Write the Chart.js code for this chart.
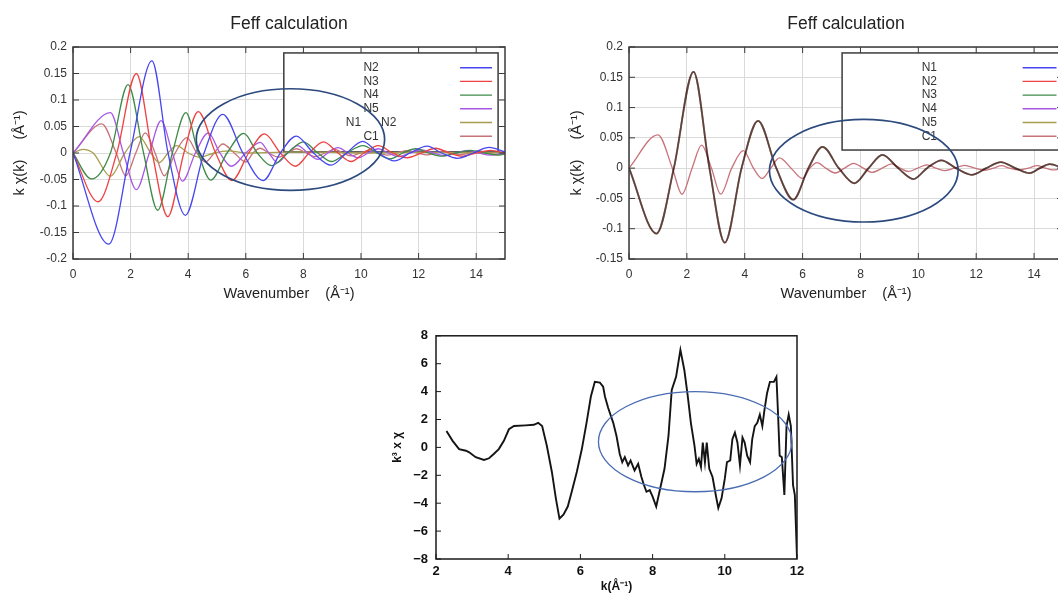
<!DOCTYPE html>
<html>
<head>
<meta charset="utf-8">
<script src="https://cdn.jsdelivr.net/npm/chart.js@4.4.1/dist/chart.umd.min.js"></script>
<style>
  html, body { margin: 0; padding: 0; background: #fff; }
  body { width: 1058px; height: 594px; overflow: hidden; position: relative; }
  canvas { position: absolute; }
  #feffA { left: 0; top: 0; }
  #feffB { left: 530px; top: 0; }
  #expt { left: 380px; top: 320px; }
</style>
</head>
<body>
<canvas id="feffA" width="530" height="310"></canvas>
<canvas id="feffB" width="560" height="310"></canvas>
<canvas id="expt" width="440" height="274"></canvas>
<script>
const FONT = "'Liberation Sans', Arial, sans-serif";

// tick values
const feffTicksX = [0, 2, 4, 6, 8, 10, 12, 14];
const feffTicksYA = [-0.2, -0.15, -0.1, -0.05, 0, 0.05, 0.1, 0.15, 0.2];
const feffTicksYB = [-0.15, -0.1, -0.05, 0, 0.05, 0.1, 0.15, 0.2];
const exptTicksX = [2, 4, 6, 8, 10, 12];
const exptTicksY = [-8, -6, -4, -2, 0, 2, 4, 6, 8];
const exptTickLabelsY = ["\u22128", "\u22126", "\u22124", "\u22122", "0", "2", "4", "6", "8"];

// legend entries
const legendA = ["N2", "N3", "N4", "N5", "N1      N2", "C1"];
const legendB = ["N1", "N2", "N3", "N4", "N5", "C1"];
const pathColors = ["#4646f0", "#ee4242", "#3d8a48", "#a757e4", "#a89d4e", "#c8727a"];
// opacity of the five stacked paths in the right panel
const stackAlpha = [0.25, 0.5, 0.5, 0.25, 0.6];

// left Feff panel: [k, k*chi(k)]
const a_N2 = [[0,0],[1.24,-0.172],[1.98,0],[2.74,0.174],[3.3,0],[3.9,-0.1175],[4.55,0],[5.2,0.073],[5.9,0],[6.6,-0.052],[7.2,0],[7.75,0.032],[8.35,0],[8.96,-0.023],[9.5,0],[10.06,0.022],[10.6,0],[11.16,-0.015],[11.7,0],[12.3,0.013],[12.8,0],[13.35,-0.01],[13.9,0],[14.45,0.0105],[15,0.002]];
const a_N3 = [[0,0],[0.87,-0.092],[1.52,0],[2.2,0.15],[2.75,0],[3.29,-0.12],[3.85,0],[4.35,0.078],[4.95,0],[5.52,-0.052],[6.1,0],[6.65,0.036],[7.2,0],[7.72,-0.025],[8.2,0],[8.7,0.021],[9.2,0],[9.66,-0.016],[10.1,0],[10.6,0.014],[11.1,0],[11.6,-0.009],[12.1,0],[12.6,0.009],[13.05,0],[13.5,-0.006],[14,0],[14.5,0.005],[15,0]];
const a_N4 = [[0,0],[0.64,-0.049],[1.3,0],[1.91,0.129],[2.45,0],[2.94,-0.108],[3.45,0],[3.92,0.076],[4.35,0],[4.78,-0.051],[5.35,0],[5.93,0.037],[6.4,0],[6.9,-0.024],[7.45,0],[8.0,0.021],[8.5,0],[8.97,-0.016],[9.5,0],[10.07,0.014],[10.55,0],[11.0,-0.011],[11.45,0],[11.9,0.008],[12.35,0],[12.8,-0.006],[13.3,0],[13.8,0.005],[14.3,0],[14.8,-0.004],[15,-0.002]];
const a_N5 = [[0,0],[1.3,0.076],[1.75,0],[2.2,-0.069],[2.65,0],[3.06,0.061],[3.45,0],[3.8,-0.053],[4.25,0],[4.7,0.038],[5.1,0],[5.5,-0.025],[6.0,0],[6.5,0.02],[6.8,0],[7.1,-0.018],[7.45,0],[7.8,0.014],[8.15,0],[8.5,-0.012],[8.85,0],[9.2,0.01],[9.55,0],[9.9,-0.009],[10.25,0],[10.6,0.008],[10.95,0],[11.3,-0.007],[11.7,0],[12.1,0.006],[12.5,0],[12.9,-0.005],[13.3,0],[13.7,0.005],[14.1,0],[14.5,-0.004],[15,0]];
const a_N1 = [[0,0],[0.35,0.007],[0.7,0],[1.3,-0.044],[1.8,0],[2.3,0.031],[2.7,0],[3.0,-0.018],[3.3,0],[3.6,0.014],[4.0,0],[4.4,-0.008],[4.9,0],[5.4,0.004],[6.0,0],[8.0,0.002],[10.0,0],[12.0,0.001],[15,0]];
const c1 = [[0,0],[1.0,0.055],[1.5,0],[1.83,-0.043],[2.18,0],[2.51,0.038],[2.85,0],[3.17,-0.043],[3.55,0],[3.95,0.029],[4.3,0],[4.6,-0.017],[4.9,0],[5.2,0.017],[5.6,0],[6.0,-0.017],[6.25,0],[6.5,0.009],[6.8,0],[7.13,-0.008],[7.45,0],[7.76,0.008],[8.1,0],[8.4,-0.007],[8.75,0],[9.08,0.007],[9.37,0],[9.66,-0.0055],[9.98,0],[10.3,0.0055],[10.6,0],[10.9,-0.004],[11.25,0],[11.6,0.0045],[11.95,0],[12.3,-0.0035],[12.6,0],[12.87,0.004],[13.15,0],[13.45,-0.003],[13.8,0],[14.1,0.004],[14.4,0],[14.7,-0.003],[15,0]];

// right Feff panel: N1..N5 sit on one curve
const b_N = [[0,0],[0.95,-0.108],[1.55,0],[2.23,0.159],[2.78,0],[3.31,-0.123],[3.89,0],[4.46,0.078],[5.09,0],[5.68,-0.052],[6.2,0],[6.69,0.035],[7.25,0],[7.79,-0.025],[8.28,0],[8.76,0.022],[9.3,0],[9.83,-0.018],[10.3,0],[10.8,0.0128],[11.3,0],[11.84,-0.011],[12.35,0],[12.85,0.01],[13.35,0],[13.85,-0.0083],[14.2,0],[14.54,0.0067],[15,0]];

// measured k^3 chi: [k, value]
const expt = [[2.29,1.18],[2.46,0.47],[2.64,-0.12],[2.83,-0.24],[2.92,-0.35],[3.1,-0.7],[3.33,-0.9],[3.47,-0.78],[3.6,-0.47],[3.74,-0.12],[3.88,0.47],[4.02,1.3],[4.16,1.53],[4.48,1.58],[4.71,1.62],[4.83,1.76],[4.94,1.53],[5.07,0.12],[5.21,-1.76],[5.32,-3.65],[5.42,-5.1],[5.53,-4.82],[5.65,-4.24],[5.76,-3.18],[5.9,-1.76],[6.04,-0.12],[6.17,1.76],[6.29,3.65],[6.4,4.7],[6.54,4.64],[6.63,4.35],[6.68,3.65],[6.77,2.82],[6.91,1.76],[7.0,0.82],[7.09,-0.47],[7.16,-1.06],[7.23,-0.7],[7.32,-1.29],[7.39,-0.94],[7.5,-1.65],[7.6,-1.18],[7.69,-2.12],[7.76,-2.7],[7.83,-3.18],[7.92,-3.06],[8.0,-3.53],[8.1,-4.24],[8.19,-3.18],[8.33,-1.53],[8.44,0.82],[8.53,4.12],[8.65,5.06],[8.77,6.99],[8.88,5.53],[8.97,3.76],[9.06,1.76],[9.16,0.12],[9.22,-1.18],[9.28,-0.82],[9.34,-1.41],[9.39,0.35],[9.45,-1.06],[9.5,0.35],[9.57,-1.53],[9.66,-2.12],[9.75,-3.41],[9.82,-4.35],[9.91,-3.65],[10.0,-2.24],[10.06,-1.06],[10.15,-0.94],[10.21,0.59],[10.28,1.06],[10.35,0.35],[10.42,-1.29],[10.49,0.71],[10.55,0.35],[10.62,-0.59],[10.7,-1.06],[10.76,0.59],[10.83,1.53],[10.9,1.76],[10.97,2.35],[11.04,1.53],[11.1,2.7],[11.17,3.88],[11.25,4.7],[11.36,4.7],[11.43,5.06],[11.47,2.7],[11.52,-0.59],[11.58,-0.7],[11.65,-3.41],[11.71,1.53],[11.77,2.35],[11.83,1.53],[11.89,-2.7],[11.94,-3.41],[12.0,-7.9]];

// hand-drawn rings: centre x, centre y, half width, half height (data units)
const ringA = [7.55, 0.0254, 3.27, 0.0958];
const ringB = [8.115, -0.0042, 3.26, 0.0847];
const ringC = [9.18, 0.41, 2.68, 3.59];

const toXY = (pts) => pts.map(([x, y]) => ({ x, y }));

function withAlpha(hex, a) {
    const n = parseInt(hex.slice(1), 16);
    return `rgba(${(n >> 16) & 255}, ${(n >> 8) & 255}, ${n & 255}, ${a})`;
}

// legend drawn as a framed box inside the plot (gnuplot style)
const boxLegend = {
    id: "boxLegend",
    beforeDatasetsDraw(chart, args, opts) {
        if (!opts.labels) return;
        const { ctx, chartArea: a } = chart;
        const w = a.right - a.left;
        const h = a.bottom - a.top;
        const x0 = a.left + opts.box[0] * w;
        const y0 = a.top + opts.box[1] * h;
        const x1 = a.left + opts.box[2] * w;
        const y1 = a.top + opts.box[3] * h;
        ctx.save();
        ctx.fillStyle = "#fff";
        ctx.fillRect(x0, y0, x1 - x0, y1 - y0);
        ctx.strokeStyle = "#3c3c3c";
        ctx.lineWidth = 1.5;
        ctx.strokeRect(x0, y0, x1 - x0, y1 - y0);
        ctx.font = "12px " + FONT;
        ctx.textAlign = "center";
        ctx.textBaseline = "middle";
        opts.labels.forEach((label, i) => {
            const y = a.top + opts.rowY + i * opts.rowStep;
            ctx.fillStyle = "#333";
            ctx.fillText(label, a.left + opts.textX * w, y);
            ctx.strokeStyle = opts.colors[i];
            ctx.lineWidth = 1.4;
            ctx.beginPath();
            ctx.moveTo(a.left + opts.lineX[0] * w, y);
            ctx.lineTo(a.left + opts.lineX[1] * w, y);
            ctx.stroke();
        });
        ctx.restore();
    },
};

// full frame with inward tick marks
const frame = {
    id: "frame",
    afterDatasetsDraw(chart, args, opts) {
        const { ctx, chartArea: a, scales } = chart;
        const L = opts.tick;
        ctx.save();
        ctx.strokeStyle = opts.color;
        ctx.lineWidth = opts.width;
        ctx.strokeRect(a.left, a.top, a.right - a.left, a.bottom - a.top);
        ctx.lineWidth = 1;
        ctx.beginPath();
        scales.x.ticks.forEach((t) => {
            const px = scales.x.getPixelForValue(t.value);
            ctx.moveTo(px, a.bottom);
            ctx.lineTo(px, a.bottom - L);
            if (opts.allSides) {
                ctx.moveTo(px, a.top);
                ctx.lineTo(px, a.top + L);
            }
        });
        scales.y.ticks.forEach((t) => {
            const py = scales.y.getPixelForValue(t.value);
            ctx.moveTo(a.left, py);
            ctx.lineTo(a.left + L, py);
            if (opts.allSides) {
                ctx.moveTo(a.right, py);
                ctx.lineTo(a.right - L, py);
            }
        });
        ctx.stroke();
        ctx.restore();
    },
};

const ring = {
    id: "ring",
    afterDatasetsDraw(chart, args, opts) {
        if (!opts.ellipse) return;
        const { ctx, scales: { x, y } } = chart;
        const [cx, cy, rx, ry] = opts.ellipse;
        const px = x.getPixelForValue(cx);
        const py = y.getPixelForValue(cy);
        const rpx = Math.abs(x.getPixelForValue(cx + rx) - px);
        const rpy = Math.abs(y.getPixelForValue(cy + ry) - py);
        ctx.save();
        ctx.strokeStyle = opts.color;
        ctx.lineWidth = opts.width;
        ctx.beginPath();
        ctx.ellipse(px, py, rpx, rpy, 0, 0, Math.PI * 2);
        ctx.stroke();
        ctx.restore();
    },
};

// overlapping paths darken each other
const blend = {
    id: "blend",
    beforeDatasetDraw(chart, args) {
        if (chart.data.datasets[args.index].blend) {
            chart.ctx.save();
            chart.ctx.globalCompositeOperation = "multiply";
        }
    },
    afterDatasetDraw(chart, args) {
        if (chart.data.datasets[args.index].blend) {
            chart.ctx.restore();
        }
    },
};

function feffOptions(ticksY, yMin, yMax, axisWidth, yTitlePad, padRight, legend, ellipse) {
    return {
        responsive: false,
        animation: false,
        layout: { padding: { right: padRight } },
        elements: { point: { radius: 0 } },
        scales: {
            x: {
                type: "linear",
                min: 0,
                max: 15,
                afterBuildTicks: (s) => { s.ticks = feffTicksX.map((v) => ({ value: v })); },
                afterFit: (s) => { s.height = 51; },
                grid: { color: "#dadada", drawTicks: false },
                border: { display: false },
                ticks: { padding: 8, color: "#333", font: { size: 12, family: FONT }, callback: (v) => String(v) },
                title: {
                    display: true,
                    text: "Wavenumber    (Å⁻¹)",
                    color: "#222",
                    font: { size: 14.5, family: FONT },
                    padding: { top: 0, bottom: 7 },
                },
            },
            y: {
                type: "linear",
                min: yMin,
                max: yMax,
                afterBuildTicks: (s) => { s.ticks = ticksY.map((v) => ({ value: v })); },
                afterFit: (s) => { s.width = axisWidth; },
                grid: { color: "#dadada", drawTicks: false },
                border: { display: false },
                ticks: { padding: 6, color: "#333", font: { size: 12, family: FONT }, callback: (v) => String(v) },
                title: {
                    display: true,
                    text: "k χ(k)     (Å⁻¹)",
                    color: "#222",
                    font: { size: 14.5, family: FONT },
                    padding: { top: yTitlePad, bottom: 0 },
                },
            },
        },
        plugins: {
            legend: { display: false },
            tooltip: { enabled: false },
            title: {
                display: true,
                fullSize: false,
                text: "Feff calculation",
                color: "#222",
                font: { size: 17.5, family: FONT, weight: "normal" },
                padding: { top: 13.5, bottom: 12.5 },
            },
            boxLegend: legend,
            frame: { color: "#3a3a3a", width: 1.5, tick: 6, allSides: true },
            ring: { ellipse: ellipse, color: "#2d4a7e", width: 1.7 },
        },
    };
}

const lineStyle = { borderWidth: 1.3, cubicInterpolationMode: "monotone", fill: false };

new Chart(document.getElementById("feffA"), {
    type: "line",
    data: {
        datasets: [a_N2, a_N3, a_N4, a_N5, a_N1, c1].map((pts, i) => ({
            label: legendA[i],
            data: toXY(pts),
            borderColor: pathColors[i],
            ...lineStyle,
        })),
    },
    options: feffOptions(feffTicksYA, -0.2, 0.2, 73, 11.5, 25, {
        labels: legendA,
        colors: pathColors,
        box: [0.488, 0.028, 0.984, 0.495],
        textX: 0.69,
        lineX: [0.896, 0.97],
        rowY: 20.7,
        rowStep: 13.7,
    }, ringA),
    plugins: [boxLegend, blend, frame, ring],
});

new Chart(document.getElementById("feffB"), {
    type: "line",
    data: {
        datasets: legendB.map((label, i) => (i < 5 ? {
            label,
            data: toXY(b_N),
            borderColor: withAlpha(pathColors[i], stackAlpha[i]),
            blend: true,
            ...lineStyle,
            borderWidth: 1.8,
        } : {
            label,
            data: toXY(c1),
            borderColor: pathColors[i],
            ...lineStyle,
        })),
    },
    options: feffOptions(feffTicksYB, -0.15, 0.2, 99, 38.5, 27, {
        labels: legendB,
        colors: pathColors,
        box: [0.491, 0.028, 1.0, 0.486],
        textX: 0.692,
        lineX: [0.907, 0.985],
        rowY: 20.7,
        rowStep: 13.7,
    }, ringB),
    plugins: [boxLegend, blend, frame, ring],
});

new Chart(document.getElementById("expt"), {
    type: "line",
    data: {
        datasets: [{
            label: "k3 chi",
            data: toXY(expt),
            borderColor: "#141414",
            borderWidth: 1.9,
            tension: 0,
            fill: false,
        }],
    },
    options: {
        responsive: false,
        animation: false,
        layout: { padding: { top: 13, right: 23 } },
        elements: { point: { radius: 0 } },
        scales: {
            x: {
                type: "linear",
                min: 2,
                max: 12,
                afterBuildTicks: (s) => { s.ticks = exptTicksX.map((v) => ({ value: v })); },
                afterFit: (s) => { s.height = 35; },
                grid: { display: false, drawTicks: false },
                border: { display: false },
                ticks: { padding: 5, color: "#111", font: { size: 13, family: FONT, weight: "bold" }, callback: (v) => String(v) },
                title: {
                    display: true,
                    text: "k(Å⁻¹)",
                    color: "#111",
                    font: { size: 12, family: FONT, weight: "bold" },
                    padding: { top: 0, bottom: 0 },
                },
            },
            y: {
                type: "linear",
                min: -8,
                max: 8,
                afterBuildTicks: (s) => { s.ticks = exptTicksY.map((v) => ({ value: v })); },
                afterFit: (s) => { s.width = 56; },
                grid: { display: false, drawTicks: false },
                border: { display: false },
                ticks: {
                    padding: 8,
                    color: "#111",
                    font: { size: 13, family: FONT, weight: "bold" },
                    callback: (v) => exptTickLabelsY[exptTicksY.indexOf(v)],
                },
                title: {
                    display: true,
                    text: "k³ x χ",
                    color: "#111",
                    font: { size: 12, family: FONT, weight: "bold" },
                    padding: { top: 10, bottom: 0 },
                },
            },
        },
        plugins: {
            legend: { display: false },
            tooltip: { enabled: false },
            frame: { color: "#1a1a1a", width: 1.5, tick: 5, allSides: false },
            ring: { ellipse: ringC, color: "#4a6cb3", width: 1.3 },
        },
    },
    plugins: [frame, ring],
});
</script>
</body>
</html>
